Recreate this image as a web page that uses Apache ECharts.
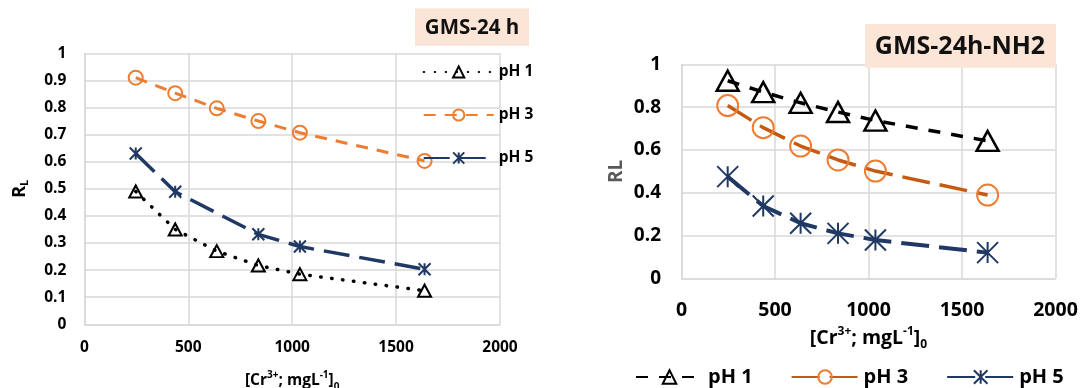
<!DOCTYPE html>
<html>
<head>
<meta charset="utf-8">
<script src="https://cdn.jsdelivr.net/npm/echarts@6/dist/echarts.min.js"></script>
<style>
  html, body { margin: 0; padding: 0; background: #fff; }
  #chart { width: 1080px; height: 388px; }
</style>
</head>
<body>
<div id="chart"></div>
<script>
// Initial Cr(III) concentrations, mg/L
const concentrations = [247, 437, 637, 837, 1037, 1637];

// Separation factor R_L for GMS-24 h
const gmsPH1 = [0.49, 0.35, 0.27, 0.217, 0.185, 0.124];
const gmsPH3 = [0.91, 0.853, 0.797, 0.75, 0.707, 0.603];
const gmsPH5 = [0.63, 0.489, null, 0.332, 0.287, 0.203];

// Separation factor R_L for GMS-24h-NH2
const nh2PH1 = [0.923, 0.87, 0.82, 0.777, 0.737, 0.642];
const nh2PH3 = [0.807, 0.704, 0.618, 0.553, 0.501, 0.389];
const nh2PH5 = [0.475, 0.338, 0.257, 0.21, 0.179, 0.12];

const seriesNames = ['pH 1', 'pH 3', 'pH 5'];
const nh2Names = ['pH 1 (NH2)', 'pH 3 (NH2)', 'pH 5 (NH2)'];
const xTicks = { min: 0, max: 2000, step: 500 };

const FONT = '"Open Sans"';
const GRID_COLOR = '#D9D9D9';
const NAVY = '#203864';
const ASTERISK = 'path://M0,0L20,20M20,0L0,20M10,0L10,20';

function pairs(xs, ys) {
  return xs.map((x, i) => [x, ys[i]]).filter(p => p[1] !== null);
}

function xAxis(gridIndex, fontSize, margin, nameGap, nameSize) {
  return {
    type: 'value', gridIndex,
    min: xTicks.min, max: xTicks.max, interval: xTicks.step,
    axisLine: { show: true, lineStyle: { color: GRID_COLOR, width: 1.5 } },
    axisTick: { show: false },
    splitLine: { show: true, lineStyle: { color: GRID_COLOR, width: 1.5 } },
    axisLabel: { fontFamily: FONT, fontWeight: 'bold', fontSize, color: '#000', margin, formatter: v => String(v) },
    name: '{b|[Cr}{sup|3+}{b|; mgL}{sup|-1}{b|]}{sub|0}',
    nameLocation: 'middle', nameGap,
    nameTextStyle: {
      rich: {
        b: { fontFamily: FONT, fontWeight: 'bold', fontSize: nameSize, color: '#000', lineHeight: nameSize + 6 },
        sup: { fontFamily: FONT, fontWeight: 'bold', fontSize: Math.round(nameSize * 0.62), color: '#000', verticalAlign: 'top', lineHeight: nameSize + 6 },
        sub: { fontFamily: FONT, fontWeight: 'bold', fontSize: Math.round(nameSize * 0.62), color: '#000', verticalAlign: 'bottom', lineHeight: nameSize + 2 }
      }
    }
  };
}

function yAxis(gridIndex, interval, fontSize, margin) {
  return {
    type: 'value', gridIndex, min: 0, max: 1, interval,
    axisLine: { show: true, lineStyle: { color: GRID_COLOR, width: 1.5 } },
    axisTick: { show: false },
    splitLine: { show: true, lineStyle: { color: GRID_COLOR, width: 1.5 } },
    axisLabel: { fontFamily: FONT, fontWeight: 'bold', fontSize, color: '#000', margin }
  };
}

function lineSeries(name, idx, ys, o) {
  return {
    name, type: 'line',
    xAxisIndex: idx, yAxisIndex: idx,
    data: pairs(concentrations, ys),
    connectNulls: true,
    symbol: o.symbol, symbolSize: o.size,
    showAllSymbol: true,
    lineStyle: { color: o.line, width: o.width, type: o.dash, cap: o.cap || 'butt' },
    itemStyle: { color: 'transparent', borderColor: o.marker || o.line, borderWidth: o.bw },
    emphasis: { disabled: true },
    z: o.z || 2
  };
}

const chart = echarts.init(document.getElementById('chart'), null, { renderer: 'canvas' });

const option = {
  animation: false,
  backgroundColor: '#fff',
  grid: [
    { left: 84.4, top: 53.3, width: 415.6, height: 271, show: false, containLabel: false, outerBoundsMode: 'none' },
    { left: 681.5, top: 64.3, width: 374, height: 214, show: false, containLabel: false, outerBoundsMode: 'none' }
  ],
  xAxis: [
    xAxis(0, 15.5, 15, 46, 15.5),
    xAxis(1, 19.5, 22, 31, 19.5)
  ],
  yAxis: [
    Object.assign(yAxis(0, 0.1, 15.5, 18), {
      name: '{r|R}{s|L}', nameLocation: 'middle', nameGap: 54,
      nameTextStyle: {
        rich: {
          r: { fontFamily: FONT, fontWeight: 'bold', fontSize: 18, color: '#000', lineHeight: 22 },
          s: { fontFamily: FONT, fontWeight: 'bold', fontSize: 11, color: '#000', verticalAlign: 'bottom', lineHeight: 18 }
        }
      }
    }),
    Object.assign(yAxis(1, 0.2, 19, 20.5), {
      name: 'RL', nameLocation: 'middle', nameGap: 55,
      nameTextStyle: { fontFamily: FONT, fontWeight: 'bold', fontSize: 19, color: '#595959' }
    })
  ],
  legend: [
    {
      data: seriesNames,
      orient: 'vertical', left: 417.7, top: 59,
      itemWidth: 70, itemHeight: 14, itemGap: 27,
      textStyle: { fontFamily: FONT, fontWeight: 'bold', fontSize: 15.5, color: '#000', lineHeight: 16 },
      selectedMode: false
    },
    {
      data: nh2Names,
      orient: 'horizontal', left: 630, top: 361,
      itemWidth: 67, itemHeight: 17, itemGap: 38,
      formatter: n => n.replace(' (NH2)', ''),
      textStyle: { fontFamily: FONT, fontWeight: 'bold', fontSize: 20, color: '#000', lineHeight: 22 },
      selectedMode: false
    }
  ],
  graphic: [
    { type: 'rect', shape: { x: 415, y: 8.3, width: 114, height: 37.5 }, style: { fill: '#FBE5D6' }, z: 10 },
    { type: 'text', x: 472, y: 28.5, z: 11,
      style: { text: 'GMS-24 h', font: 'bold 20.5px "Open Sans"', fill: '#111', align: 'center', verticalAlign: 'middle' } },
    { type: 'rect', shape: { x: 865, y: 24, width: 191, height: 43.7 }, style: { fill: '#FBE5D6' }, z: 10 },
    { type: 'text', x: 960, y: 46.5, z: 11,
      style: { text: 'GMS-24h-NH2', font: 'bold 25px "Open Sans"', fill: '#111', align: 'center', verticalAlign: 'middle' } }
  ],
  series: [
    lineSeries(seriesNames[0], 0, gmsPH1, { line: '#000', width: 3.5, dash: [0.5, 10.5], cap: 'round', symbol: 'triangle', size: [13, 12], bw: 2 }),
    lineSeries(seriesNames[1], 0, gmsPH3, { line: '#ED7D31', width: 3, dash: [12, 9], symbol: 'circle', size: 14, bw: 2 }),
    lineSeries(seriesNames[2], 0, gmsPH5, { line: NAVY, width: 3.5, dash: [26, 10], symbol: ASTERISK, size: 12, bw: 2 }),
    lineSeries(nh2Names[0], 1, nh2PH1, { line: '#000', width: 3.5, dash: [12, 11], symbol: 'triangle', size: [22, 20], bw: 2.5 }),
    lineSeries(nh2Names[1], 1, nh2PH3, { line: '#C55A11', marker: '#ED7D31', width: 3.5, dash: [28, 10], symbol: 'circle', size: 21, bw: 2 }),
    lineSeries(nh2Names[2], 1, nh2PH5, { line: NAVY, width: 4, dash: [28, 10], symbol: ASTERISK, size: 21, bw: 2 })
  ]
};

chart.setOption(option);
</script>
</body>
</html>
